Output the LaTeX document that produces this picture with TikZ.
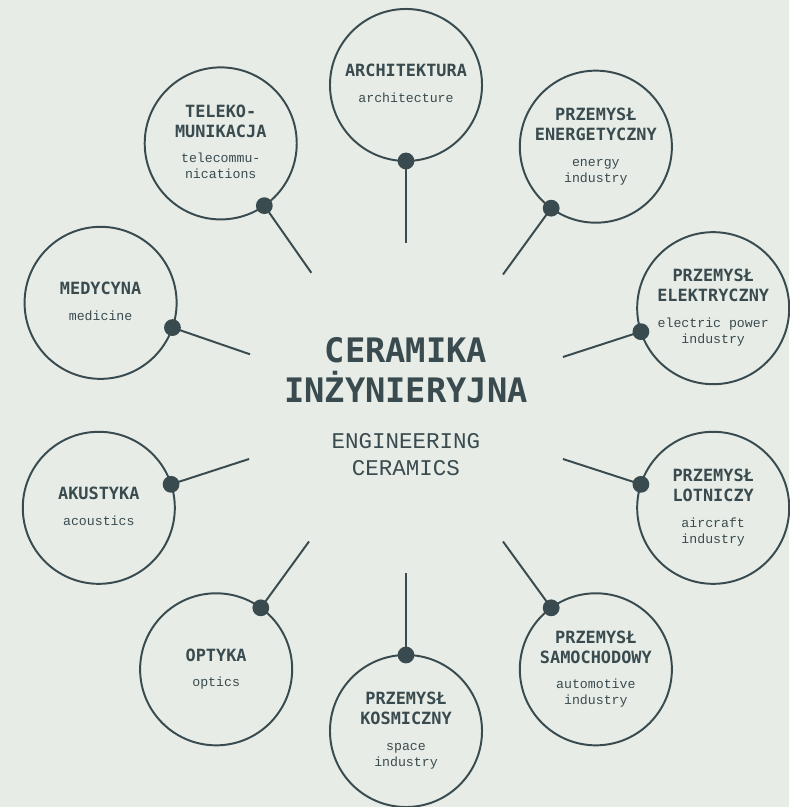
\documentclass[tikz,border=0pt]{standalone}
\usepackage{fontspec}
\usepackage{xcolor}
\newfontfamily\headfont{DejaVu Sans Mono}
\newfontfamily\thinfont{Liberation Mono}
\definecolor{ink}{HTML}{3A4B4F}
\definecolor{paper}{HTML}{E7ECE7}
\newcommand\heading[1]{{\headfont\bfseries\fontsize{12}{14.2}\selectfont\begin{tabular}{@{}c@{}}#1\end{tabular}}}
\newcommand\gloss[1]{{\thinfont\fontsize{9.4}{11.4}\selectfont\begin{tabular}{@{}c@{}}#1\end{tabular}}}

\begin{document}
\begin{tikzpicture}[x=0.025cm,y=0.025cm,
  bubble/.style={draw=ink,line width=1.4pt,circle,minimum size=3.8cm,inner sep=0pt,align=center,text=ink},
  knob/.style={circle,fill=ink,minimum size=0.42cm,inner sep=0pt},
  spoke/.style={draw=ink,line width=1.4pt}]
\useasboundingbox[fill=paper] (-406,-399) rectangle (383,408);

\node[text=ink,font=\headfont\bfseries\fontsize{24}{28.5}\selectfont,align=center] (core) at (0,38)
  {CERAMIKA\\INŻYNIERYJNA};
\node[text=ink,font=\thinfont\fontsize{16}{19.2}\selectfont,align=center] (coreen) at (0,-47)
  {ENGINEERING\\CERAMICS};

\foreach \ang/\id/\pl/\en in {
  90/arch/ARCHITEKTURA/architecture,
  125/tele/TELEKO-\\MUNIKACJA/telecommu-\\nications,
  54/ener/PRZEMYSŁ\\ENERGETYCZNY/energy\\industry,
  161/medy/MEDYCYNA/medicine,
  18/elek/PRZEMYSŁ\\ELEKTRYCZNY/electric power\\industry,
  198/akus/AKUSTYKA/acoustics,
  -18/lotn/PRZEMYSŁ\\LOTNICZY/aircraft\\industry,
  234/opty/OPTYKA/optics,
  270/kosm/PRZEMYSŁ\\KOSMICZNY/space\\industry,
  306/samo/PRZEMYSŁ\\SAMOCHODOWY/automotive\\industry}{
  \node[bubble] (b-\id) at (\ang:323) {\heading{\pl}\\[5pt]\gloss{\en}};
  \node[knob] (k-\id) at (\ang:247) {};
  \coordinate (t-\id) at (\ang:165);
  \draw[spoke] (t-\id) -- (k-\id.center);
}
\end{tikzpicture}
\end{document}
